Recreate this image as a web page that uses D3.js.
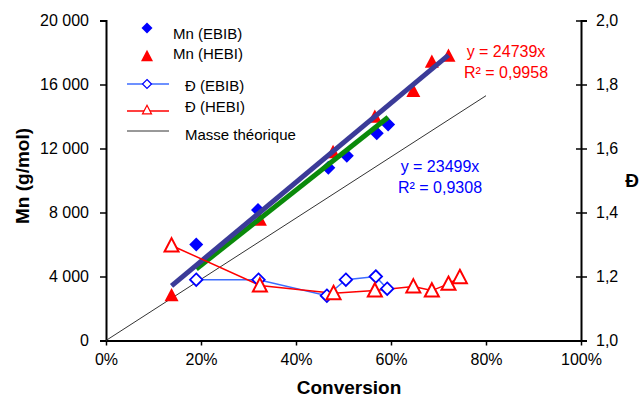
<!DOCTYPE html>
<html><head><meta charset="utf-8">
<script src="https://cdn.jsdelivr.net/npm/d3@7"></script>
<style>body{margin:0;background:#fff}svg{display:block}text{font-family:"Liberation Sans",Arial,sans-serif}</style>
</head><body>
<svg id="c" width="641" height="401"></svg>
<script>
// Data
const convEBIB = [0.19, 0.32, 0.468, 0.507, 0.57, 0.594];
const mnEBIB = [6000, 8150, 10800, 11550, 12950, 13500];
const dispConvEBIB = [0.19, 0.321, 0.465, 0.505, 0.568, 0.592];
const dispEBIB = [1.19, 1.19, 1.14, 1.19, 1.20, 1.162];
const convHEBI = [0.138, 0.324, 0.478, 0.566, 0.647, 0.686, 0.721];
const mnHEBI = [2820, 7550, 11770, 13980, 15590, 17420, 17800];
const dispConvHEBI = [0.138, 0.324, 0.479, 0.566, 0.647, 0.686, 0.721, 0.745];
const dispHEBI = [1.297, 1.172, 1.148, 1.156, 1.169, 1.156, 1.177, 1.198];
const theoConv = [0, 0.8];
const theoMn = [0, 15300];
const slopeEBIB = 23499, slopeHEBI = 24739;
const xTicks = [0, 0.2, 0.4, 0.6, 0.8, 1.0];
const yTicks = [0, 4000, 8000, 12000, 16000, 20000];
const y2Ticks = [1.0, 1.2, 1.4, 1.6, 1.8, 2.0];
const legendLabels = ["Mn (EBIB)", "Mn (HEBI)", "Đ (EBIB)", "Đ (HEBI)", "Masse théorique"];

const svg = d3.select("#c");
const L = 106, R = 581, T = 20.5, B = 340.5;
const x = d3.scaleLinear().domain([0, 1]).range([L, R]);
const y = d3.scaleLinear().domain([0, 20000]).range([B, T]);
const y2 = d3.scaleLinear().domain([1, 2]).range([B, T]);

const BLUE = "#0000ff", RED = "#ff0000", LBLUE = "#3d6cff", NAVY = "#3b3b98", GREEN = "#0a8a0a";
const fmtK = v => v === 0 ? "0" : d3.format(",")(v).replace(",", " ");

// Axes
const gx = svg.append("g").attr("transform", `translate(0,${B})`)
  .call(d3.axisBottom(x).tickValues(xTicks).tickFormat(d => Math.round(d * 100) + "%").tickSizeOuter(0).tickSizeInner(5).tickPadding(8));
const gy = svg.append("g").attr("transform", `translate(${L},0)`)
  .call(d3.axisLeft(y).tickValues(yTicks).tickFormat(fmtK).tickSizeOuter(0).tickSize(6).tickPadding(11));
const gy2 = svg.append("g").attr("transform", `translate(${R},0)`)
  .call(d3.axisRight(y2).tickValues(y2Ticks).tickFormat(d => d3.format(".1f")(d).replace(".", ",")).tickSizeOuter(0).tickSize(6).tickPadding(9));
gy2.selectAll(".tick line").attr("x1", -5);
[gx, gy, gy2].forEach(g => {
  g.select(".domain").attr("stroke", "#000").attr("stroke-width", 2);
  g.selectAll(".tick line").attr("stroke", "#000").attr("stroke-width", 1.5);
  g.selectAll(".tick text").attr("font-size", 16).attr("fill", "#000").style("font-family", '"Liberation Sans",Arial,sans-serif');
});

// Titles
svg.append("text").attr("x", 349).attr("y", 394).attr("text-anchor", "middle").attr("font-size", 19).attr("font-weight", "bold").text("Conversion");
svg.append("text").attr("transform", "translate(29,176) rotate(-90)").attr("text-anchor", "middle").attr("font-size", 19).attr("font-weight", "bold").text("Mn (g/mol)");
svg.append("text").attr("x", 632).attr("y", 187).attr("text-anchor", "middle").attr("font-size", 19).attr("font-weight", "bold").text("Đ");

// Theoretical line
const line = d3.line();
svg.append("path").attr("d", line(theoConv.map((c, i) => [x(c), y(theoMn[i])]))).attr("stroke", "#333").attr("stroke-width", 1).attr("fill", "none");

function drawDiamond(g, cx, cy, s, fill, stroke, sw) {
  const h = s / 2;
  g.append("path").attr("d", `M${cx},${cy - h}L${cx + h},${cy}L${cx},${cy + h}L${cx - h},${cy}Z`)
    .attr("fill", fill).attr("stroke", stroke).attr("stroke-width", sw);
}
function drawTri(g, cx, cy, w, fill, stroke, sw) {
  const h = w * 0.95;
  g.append("path").attr("d", `M${cx},${cy - h * 0.55}L${cx + w / 2},${cy + h * 0.45}L${cx - w / 2},${cy + h * 0.45}Z`)
    .attr("fill", fill).attr("stroke", stroke).attr("stroke-width", sw);
}

// Mn markers
const gm = svg.append("g");
convEBIB.forEach((c, i) => drawDiamond(gm, x(c), y(mnEBIB[i]), 14, BLUE, "none", 0));
convHEBI.forEach((c, i) => drawTri(gm, x(c), y(mnHEBI[i]), 14, RED, "none", 0));

// Trendlines
const ex = d3.extent(convEBIB), hx = d3.extent(convHEBI);
svg.append("path").attr("d", line(ex.map(c => [x(c), y(slopeEBIB * c)]))).attr("stroke", GREEN).attr("stroke-width", 5).attr("fill", "none");
svg.append("path").attr("d", line(hx.map(c => [x(c), y(slopeHEBI * c)]))).attr("stroke", NAVY).attr("stroke-width", 5).attr("fill", "none");

// Dispersity series
const gd = svg.append("g");
gd.append("path").attr("d", line(dispConvEBIB.map((c, i) => [x(c), y2(dispEBIB[i])]))).attr("stroke", LBLUE).attr("stroke-width", 1.5).attr("fill", "none");
gd.append("path").attr("d", line(dispConvHEBI.map((c, i) => [x(c), y2(dispHEBI[i])]))).attr("stroke", RED).attr("stroke-width", 1.5).attr("fill", "none");
dispConvEBIB.forEach((c, i) => drawDiamond(gd, x(c), y2(dispEBIB[i]), 12.5, "#fff", BLUE, 1.8));
dispConvHEBI.forEach((c, i) => drawTri(gd, x(c), y2(dispHEBI[i]), 14, "#fff", RED, 2));

// Equations
const eq = svg.append("g").attr("font-size", 16);
eq.append("text").attr("x", 506).attr("y", 57).attr("text-anchor", "middle").attr("fill", RED).text("y = 24739x");
eq.append("text").attr("x", 506).attr("y", 77.5).attr("text-anchor", "middle").attr("fill", RED).text("R² = 0,9958");
eq.append("text").attr("x", 440).attr("y", 172).attr("text-anchor", "middle").attr("fill", BLUE).text("y = 23499x");
eq.append("text").attr("x", 440).attr("y", 193).attr("text-anchor", "middle").attr("fill", BLUE).text("R² = 0,9308");

// Legend
const lg = svg.append("g").attr("font-size", 15);
drawDiamond(lg, 147, 28, 11, BLUE, "none", 0);
lg.append("text").attr("x", 173).attr("y", 38.5).text(legendLabels[0]);
drawTri(lg, 147, 56, 12, RED, "none", 0);
lg.append("text").attr("x", 173).attr("y", 58.5).text(legendLabels[1]);
lg.append("line").attr("x1", 127).attr("x2", 169).attr("y1", 84).attr("y2", 84).attr("stroke", LBLUE).attr("stroke-width", 1.5);
drawDiamond(lg, 147, 84, 9, "#fff", BLUE, 1.2);
lg.append("text").attr("x", 185).attr("y", 91).text(legendLabels[2]);
lg.append("line").attr("x1", 127).attr("x2", 169).attr("y1", 111).attr("y2", 111).attr("stroke", RED).attr("stroke-width", 1.5);
drawTri(lg, 147, 110, 9, "#fff", RED, 1.2);
lg.append("text").attr("x", 185).attr("y", 112).text(legendLabels[3]);
lg.append("line").attr("x1", 127).attr("x2", 169).attr("y1", 131).attr("y2", 131).attr("stroke", "#333").attr("stroke-width", 1);
lg.append("text").attr("x", 185).attr("y", 140).text(legendLabels[4]);
</script>
</body></html>
